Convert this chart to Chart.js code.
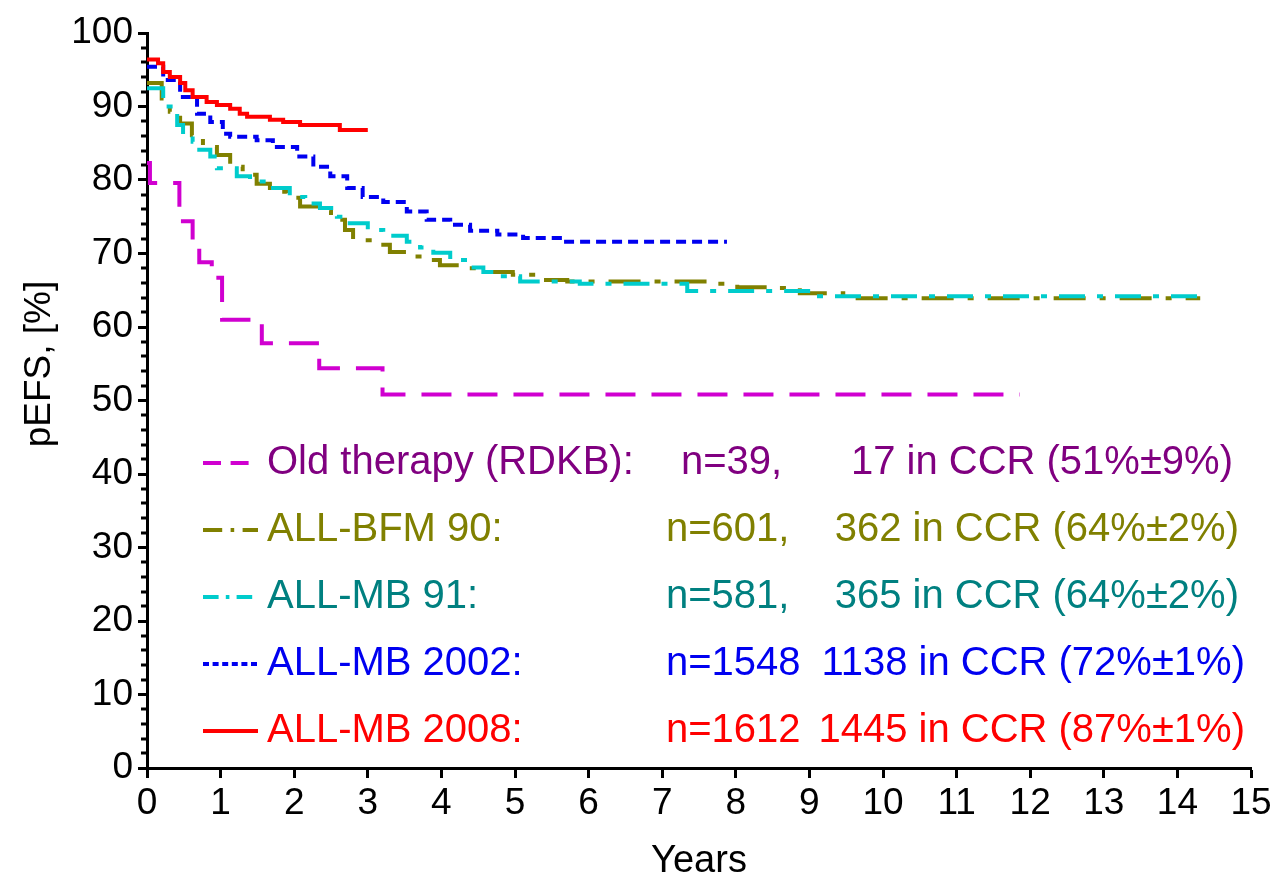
<!DOCTYPE html>
<html>
<head>
<meta charset="utf-8">
<script src="https://cdn.jsdelivr.net/npm/chart.js@4.4.0/dist/chart.umd.min.js"></script>
<style>
  html, body { margin: 0; padding: 0; background: #fff; }
  #wrap { width: 1283px; height: 884px; }
</style>
</head>
<body>
<div id="wrap"><canvas id="kmChart" width="1283" height="884"></canvas></div>
<script>
// Kaplan-Meier pEFS curves (years, %)
const oldYears  = [0, 0.04, 0.44, 0.62, 0.71, 0.88, 1.02, 1.56, 2.34, 3.2, 11.86];
const oldPefs   = [82.3, 79.6, 74.4, 71.6, 68.8, 66.7, 61.0, 57.8, 54.4, 50.8, 50.8];

const bfm90Years = [0, 0.20, 0.31, 0.45, 0.61, 0.76, 0.95, 1.13, 1.30, 1.49, 1.67, 1.90, 2.08, 2.35, 2.50, 2.69, 2.80, 3.13, 3.30, 3.55, 3.80, 3.98, 4.28, 4.55, 4.97, 5.34, 5.71, 7.79, 8.02, 8.42, 8.87, 9.46, 14.31];
const bfm90Pefs  = [93.2, 91.1, 89.3, 87.7, 86.1, 84.5, 83.4, 81.8, 80.7, 79.5, 78.4, 77.6, 76.4, 75.9, 74.6, 73.2, 71.8, 71.2, 70.2, 69.6, 69.1, 68.4, 68.0, 67.5, 67.1, 66.4, 66.2, 65.9, 65.4, 65.3, 64.6, 63.9, 63.9];

const mb91Years = [0, 0.22, 0.41, 0.49, 0.62, 0.68, 0.86, 0.95, 1.22, 1.40, 1.67, 1.94, 2.15, 2.35, 2.58, 2.72, 3.0, 3.21, 3.53, 3.71, 3.89, 4.12, 4.35, 4.57, 4.80, 5.07, 5.88, 7.34, 9.10, 14.31];
const mb91Pefs  = [92.5, 90.0, 87.5, 86.1, 85.2, 84.1, 83.2, 81.6, 80.5, 79.8, 78.9, 77.7, 76.8, 76.2, 75.0, 74.1, 73.2, 72.4, 71.6, 70.8, 70.1, 69.1, 68.1, 67.5, 66.9, 66.2, 65.9, 64.9, 64.2, 64.1];

const mb2002Years = [0, 0.22, 0.45, 0.68, 0.86, 1.03, 1.13, 1.49, 1.71, 2.04, 2.26, 2.49, 2.72, 2.93, 3.21, 3.53, 3.80, 4.12, 4.39, 4.76, 5.11, 5.61, 7.88];
const mb2002Pefs  = [95.4, 93.6, 91.3, 89.0, 87.9, 86.3, 85.9, 85.4, 84.5, 83.2, 81.8, 80.5, 78.9, 77.7, 77.0, 75.7, 74.6, 73.9, 73.1, 72.6, 72.1, 71.6, 71.6];

const mb2008Years = [0, 0.15, 0.22, 0.31, 0.45, 0.52, 0.62, 0.81, 0.95, 1.13, 1.26, 1.36, 1.67, 1.85, 2.08, 2.62, 3.0];
const mb2008Pefs  = [96.4, 95.9, 94.7, 94.0, 93.2, 92.2, 91.3, 90.6, 90.2, 89.7, 89.0, 88.6, 88.2, 87.9, 87.5, 86.8, 86.8];

// legend texts
const groupNames = ['Old therapy (RDKB):', 'ALL-BFM 90:', 'ALL-MB 91:', 'ALL-MB 2002:', 'ALL-MB 2008:'];
const groupN     = ['n=39,', 'n=601,', 'n=581,', 'n=1548', 'n=1612'];
const groupCCR   = ['17 in CCR (51%\u00b19%)', '362 in CCR (64%\u00b12%)', '365 in CCR (64%\u00b12%)', '1138 in CCR (72%\u00b11%)', '1445 in CCR (87%\u00b11%)'];

const xTicks = [0, 15, 1];     // min, max, step
const yTicks = [0, 100, 10, 2]; // min, max, major step, minor step
const yTitle = 'pEFS, [%]';

const lineColors = ['#d000d0', '#808000', '#00cccc', '#0000f0', '#ff0000'];
const textColors = ['#800080', '#808000', '#008080', '#0000f0', '#ff0000'];
const dashes = [[30, 16], [32, 14, 6, 14], [26, 12, 6, 12], [10, 6], []];

const FONT = "'Liberation Sans', Arial, sans-serif";

function pts(xs, ys) {
  return xs.map((x, i) => ({ x: x, y: ys[i] }));
}

const series = [
  pts(oldYears, oldPefs),
  pts(bfm90Years, bfm90Pefs),
  pts(mb91Years, mb91Pefs),
  pts(mb2002Years, mb2002Pefs),
  pts(mb2008Years, mb2008Pefs)
];

const datasets = series.map((d, i) => ({
  label: groupNames[i],
  data: d,
  borderColor: lineColors[i],
  borderWidth: 4,
  borderDash: dashes[i],
  borderCapStyle: 'butt',
  stepped: true,
  pointRadius: 0,
  fill: false,
  order: 4 - i
}));

// minor y ticks, y title and the in-plot legend
const extras = {
  id: 'extras',
  afterDraw(chart) {
    const c = chart.ctx;
    const ys = chart.scales.y;
    c.save();
    c.strokeStyle = '#000';
    c.lineWidth = 3;
    for (let v = yTicks[0]; v <= yTicks[1]; v += yTicks[3]) {
      if (v % yTicks[2] === 0) continue;
      const py = Math.round(ys.getPixelForValue(v));
      c.beginPath();
      c.moveTo(ys.right - 6, py);
      c.lineTo(ys.right, py);
      c.stroke();
    }

    // axis title, a bit above the middle like the original
    c.save();
    c.translate(40, 364);
    c.rotate(-Math.PI / 2);
    c.font = '37px ' + FONT;
    c.fillStyle = '#000';
    c.textAlign = 'center';
    c.textBaseline = 'middle';
    c.fillText(yTitle, 0, 0);
    c.restore();

    const rowY = [463, 530, 597, 664, 731];
    const nX = [681, 666, 666, 666, 666];
    const ccrRight = [1233, 1239, 1239, 1245, 1245];
    c.font = '40px ' + FONT;
    c.textBaseline = 'middle';
    for (let i = 0; i < groupNames.length; i++) {
      const y = rowY[i];
      c.strokeStyle = lineColors[i];
      c.lineWidth = 4;
      c.setLineDash(dashes[i].map(v => v * 0.6));
      c.beginPath();
      c.moveTo(203, y);
      c.lineTo(258, y);
      c.stroke();
      c.setLineDash([]);
      c.fillStyle = textColors[i];
      c.textAlign = 'left';
      c.fillText(groupNames[i], 267, y);
      c.fillText(groupN[i], nX[i], y);
      c.textAlign = 'right';
      c.fillText(groupCCR[i], ccrRight[i], y);
    }
    c.restore();
  }
};

const ctx = document.getElementById('kmChart');

new Chart(ctx, {
  type: 'line',
  data: { datasets: datasets },
  options: {
    responsive: false,
    animation: false,
    devicePixelRatio: 1,
    layout: { padding: { top: 33, right: 32, left: 0, bottom: 0 } },
    plugins: {
      legend: { display: false },
      tooltip: { enabled: false }
    },
    scales: {
      x: {
        type: 'linear',
        min: xTicks[0],
        max: xTicks[1],
        afterFit(scale) { scale.height = 116; },
        border: { display: true, color: '#000', width: 3 },
        grid: { drawOnChartArea: false, drawTicks: true, tickLength: 10, tickWidth: 3, tickColor: '#000' },
        ticks: { stepSize: xTicks[2], color: '#000', padding: 4, maxRotation: 0, font: { family: FONT, size: 37 } },
        title: { display: true, text: 'Years', color: '#000', padding: { top: 0, bottom: 0 }, font: { family: FONT, size: 38 } }
      },
      y: {
        min: yTicks[0],
        max: yTicks[1],
        afterFit(scale) { scale.width = 147; },
        border: { display: true, color: '#000', width: 3 },
        grid: { drawOnChartArea: false, drawTicks: true, tickLength: 9, tickWidth: 3, tickColor: '#000' },
        ticks: { stepSize: yTicks[2], color: '#000', padding: 5, font: { family: FONT, size: 37 } }
      }
    }
  },
  plugins: [extras]
});
</script>
</body>
</html>
